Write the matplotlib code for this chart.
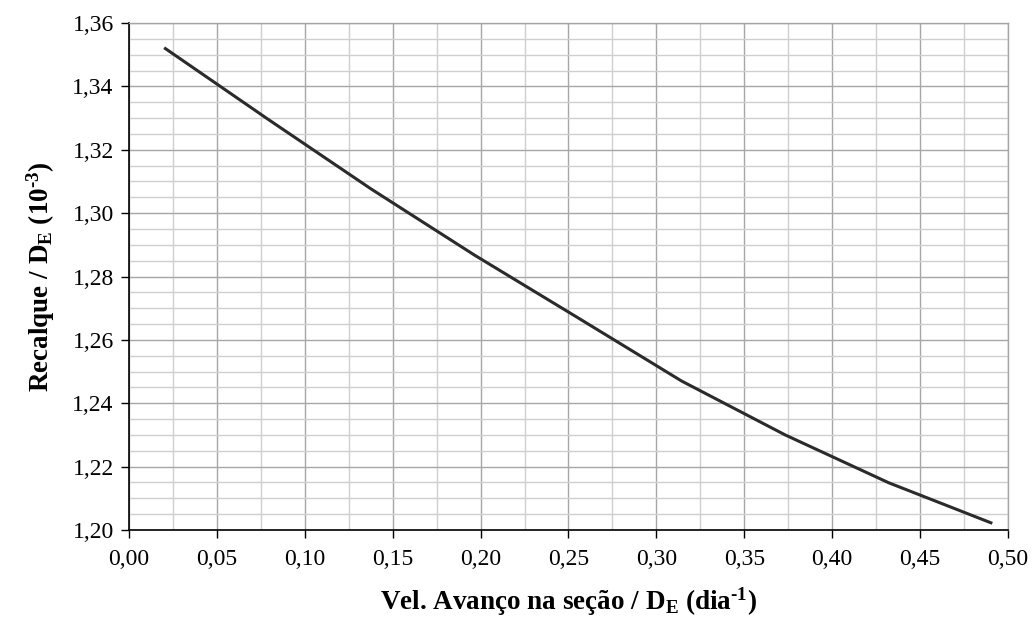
import matplotlib
matplotlib.use("Agg")
import matplotlib.pyplot as plt
from matplotlib.ticker import MultipleLocator, FuncFormatter

# Settlement vs. advance rate (normalised by excavation diameter)
vel_avanco = [0.0200, 0.0789, 0.1378, 0.1967, 0.2556, 0.3144, 0.3733, 0.4322, 0.4911]
recalque = [1.3522, 1.3297, 1.3076, 1.2867, 1.2669, 1.2470, 1.2300, 1.2149, 1.2021]

x_ticks = [0.00, 0.05, 0.10, 0.15, 0.20, 0.25, 0.30, 0.35, 0.40, 0.45, 0.50]
y_ticks = [1.20, 1.22, 1.24, 1.26, 1.28, 1.30, 1.32, 1.34, 1.36]

plt.rcParams["font.family"] = ["Liberation Serif", "DejaVu Serif"]
plt.rcParams["mathtext.fontset"] = "custom"
plt.rcParams["mathtext.rm"] = "Liberation Serif"
plt.rcParams["mathtext.bf"] = "Liberation Serif:bold"
plt.rcParams["mathtext.default"] = "bf"

fig = plt.figure(figsize=(10.32, 6.27), dpi=100)
ax = fig.add_axes([0.125, 0.1547, 0.8517, 0.8086])

ax.plot(vel_avanco, recalque, color="#2b2b2b", lw=2.2, solid_joinstyle="round",
        solid_capstyle="butt", zorder=3)

ax.set_xlim(x_ticks[0], x_ticks[-1])
ax.set_ylim(y_ticks[0], y_ticks[-1])
ax.set_xticks(x_ticks)
ax.set_yticks(y_ticks)
ax.xaxis.set_minor_locator(MultipleLocator(0.025))
ax.yaxis.set_minor_locator(MultipleLocator(0.005))

comma = FuncFormatter(lambda v, p: f"{v:.2f}".replace(".", ","))
ax.xaxis.set_major_formatter(comma)
ax.yaxis.set_major_formatter(comma)

ax.grid(which="major", color="#a6a6a6", lw=1.0)
ax.grid(which="minor", color="#cfcfcf", lw=1.0)
ax.set_axisbelow(True)

for side in ("left", "bottom"):
    ax.spines[side].set_color("black")
    ax.spines[side].set_linewidth(1.2)
for side in ("top", "right"):
    ax.spines[side].set_color("#a6a6a6")
    ax.spines[side].set_linewidth(1.0)

ax.tick_params(which="major", direction="out", length=6, width=1.0,
               labelsize=17, pad=5, colors="black")
ax.tick_params(which="minor", length=0)
ax.tick_params(axis="x", pad=8)

ax.set_xlabel("Vel. Avanço na seção / $\\mathbf{D_E}$ (dia$^{\\mathbf{\u2010 1}}$)",
              fontsize=19.5, fontweight="bold", labelpad=11)
ax.set_ylabel("Recalque / $\\mathbf{D_E}$ (10$^{\\mathbf{\u2010 3}}$)",
              fontsize=19.5, fontweight="bold", labelpad=11)

fig.savefig("out.png", dpi=100, facecolor="white")
